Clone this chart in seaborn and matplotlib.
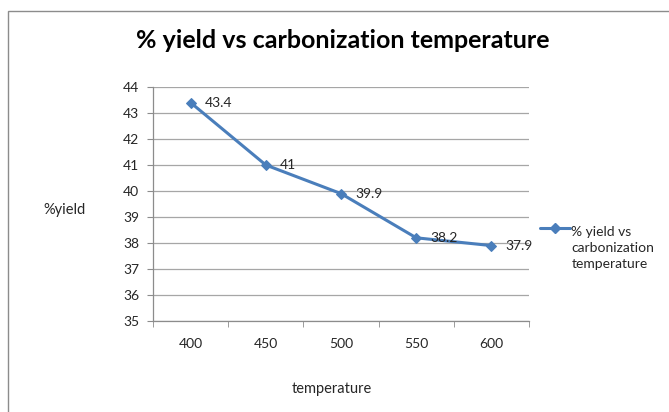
import matplotlib
matplotlib.use("Agg")
import matplotlib.pyplot as plt
import seaborn as sns
import pandas as pd
from matplotlib.patches import Rectangle
from matplotlib.lines import Line2D
from matplotlib.legend_handler import HandlerLine2D

# datos
temperaturas = ["400", "450", "500", "550", "600"]
rendimiento = [43.4, 41, 39.9, 38.2, 37.9]
etiquetas = ["43.4", "41", "39.9", "38.2", "37.9"]
serie = "% yield vs carbonization temperature"

data = pd.DataFrame({"temperature": temperaturas, "yield": rendimiento})

sns.set_style("white")
plt.rcParams["font.family"] = ["Lato", "DejaVu Sans"]

azul = "#4a7ebb"
gris = "#8c8c8c"
texto = "#262626"
fs = 10
interlineado = 1.45


# el marcador de la leyenda va a la altura de la primera linea del texto
class HandlerArriba(HandlerLine2D):
    def create_artists(self, legend, orig_handle, xdescent, ydescent, width, height, fontsize, trans):
        arts = super().create_artists(legend, orig_handle, xdescent, ydescent, width, height, fontsize, trans)
        for a in arts:
            a.set_ydata([y + fontsize * interlineado for y in a.get_ydata()])
        return arts


fig = plt.figure(figsize=(6.69, 4.12), dpi=100)
ax = fig.add_axes([153 / 669, 1 - 321 / 412, (529 - 153) / 669, (321 - 87) / 412])

sns.lineplot(data=data, x="temperature", y="yield", sort=False, color=azul,
             marker="D", markersize=5.5, markeredgecolor=azul, linewidth=2.2, ax=ax)

for i, (v, t) in enumerate(zip(rendimiento, etiquetas)):
    ax.annotate(t, (i, v), xytext=(10, 0), textcoords="offset points",
                va="center", ha="left", fontsize=fs, color=texto)

ax.set_xlim(-0.5, len(temperaturas) - 0.5)
ax.set_ylim(35, 44)
ax.set_yticks(range(35, 45))
ax.set_xticks(range(len(temperaturas)))
ax.set_xticklabels(temperaturas)
ax.set_xticks([i - 0.5 for i in range(len(temperaturas) + 1)], minor=True)
ax.tick_params(axis="x", which="major", length=0, pad=12, labelsize=fs, labelcolor=texto)
ax.tick_params(axis="x", which="minor", length=4, color=gris, direction="out", bottom=True)
ax.tick_params(axis="y", length=4, color=gris, direction="out", left=True, labelsize=fs,
               labelcolor=texto, pad=6)
ax.grid(axis="y", color="#a6a6a6", linewidth=0.9)
ax.set_axisbelow(True)
for s in ["top", "right"]:
    ax.spines[s].set_visible(False)
for s in ["left", "bottom"]:
    ax.spines[s].set_color(gris)
    ax.spines[s].set_linewidth(0.9)
ax.set_xlabel("")
ax.set_ylabel("")

fig.text(343 / 669, 1 - 40 / 412, serie, ha="center", va="center",
         fontsize=18, fontweight="bold", color="black")
fig.text(65 / 669, 1 - 210 / 412, "%yield", ha="center", va="center", fontsize=10.5, color=texto)
fig.text(332 / 669, 1 - 389 / 412, "temperature", ha="center", va="center", fontsize=10.5, color=texto)

handle = Line2D([], [], color=azul, marker="D", markersize=5.5, linewidth=2.2)
leg = fig.legend([handle], ["% yield vs\ncarbonization\ntemperature"], loc="upper left",
                 bbox_to_anchor=(527 / 669, 1 - 213 / 412), frameon=False, fontsize=fs,
                 handlelength=2.2, handletextpad=0.1, labelcolor=texto,
                 handler_map={Line2D: HandlerArriba()})
for t in leg.get_texts():
    t.set_linespacing(interlineado)

fig.patches.append(Rectangle((8 / 669, -0.1), 2, 1 - 11 / 412 + 0.1, transform=fig.transFigure,
                             fill=False, edgecolor=gris, linewidth=1))

fig.savefig("out.png", dpi=100)
